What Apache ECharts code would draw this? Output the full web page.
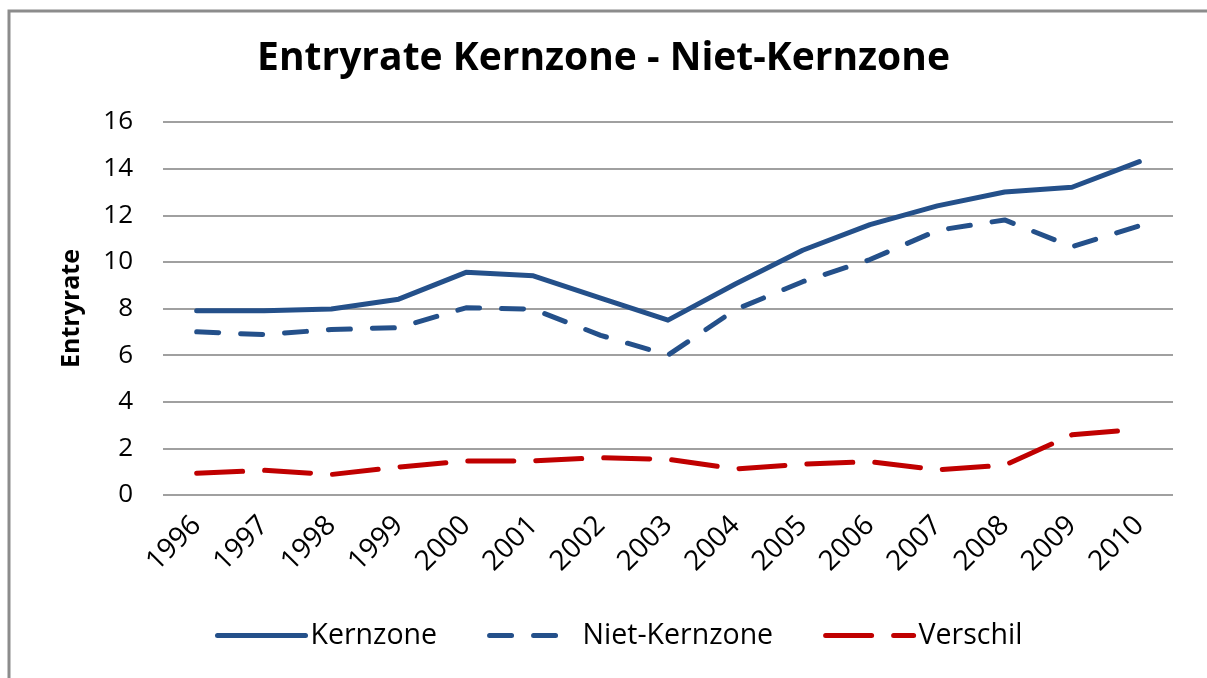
<!DOCTYPE html>
<html>
<head>
<meta charset="utf-8">
<script src="https://cdn.jsdelivr.net/npm/echarts@6/dist/echarts.min.js"></script>
<style>
  html, body { margin: 0; padding: 0; background: #fff; }
  #chart { width: 1207px; height: 678px; }
</style>
</head>
<body>
<div id="chart"></div>
<script>
var years = ['1996', '1997', '1998', '1999', '2000', '2001', '2002', '2003',
  '2004', '2005', '2006', '2007', '2008', '2009', '2010']
var kernzone = [7.9, 7.9, 7.98, 8.4, 9.55, 9.4, 8.45, 7.5, 9.05, 10.5, 11.6, 12.4, 13.0, 13.2, 14.3]
var nietKernzone = [7.0, 6.88, 7.1, 7.18, 8.03, 7.97, 6.85, 6.0, 7.95, 9.15, 10.1, 11.35, 11.8, 10.65, 11.55]
var verschil = [0.93, 1.06, 0.88, 1.2, 1.46, 1.46, 1.6, 1.53, 1.12, 1.32, 1.43, 1.08, 1.28, 2.58, 2.82]

var font = '"Open Sans", Lato, sans-serif'
var blue = '#24508a'
var red = '#c00000'

var chart = echarts.init(document.getElementById('chart'))

function lineSeries(name, data, color, dash) {
  return {
    name: name,
    type: 'line',
    data: data,
    symbol: 'none',
    smooth: false,
    lineStyle: {
      color: color,
      width: 5,
      type: dash,
      cap: 'round',
      join: 'round'
    },
    itemStyle: { color: color }
  }
}

var option = {
  animation: false,
  backgroundColor: '#fff',
  title: {
    text: 'Entryrate Kernzone - Niet-Kernzone',
    left: 'center',
    top: 34,
    textStyle: { fontFamily: font, fontSize: 39, fontWeight: 'bold', color: '#000' }
  },
  graphic: [{
    type: 'polyline',
    shape: { points: [[9, 690], [9, 11], [1220, 11]] },
    style: { stroke: '#8c8c8c', lineWidth: 3, fill: null }
  }],
  legend: {
    left: 210,
    top: 616,
    itemWidth: 88,
    itemHeight: 14,
    itemGap: 50,
    textStyle: { fontFamily: font, fontSize: 28.5, color: '#000' },
    itemStyle: { opacity: 0 },
    lineStyle: { width: 5, cap: 'round' },
    data: ['Kernzone', 'Niet-Kernzone', 'Verschil']
  },
  grid: { left: 163, right: 34, top: 122, bottom: 183, containLabel: false },
  xAxis: {
    type: 'category',
    data: years,
    boundaryGap: true,
    axisLine: { show: false },
    axisTick: { show: false },
    axisLabel: {
      rotate: 45,
      margin: 26,
      fontFamily: font,
      fontSize: 28,
      color: '#000'
    }
  },
  yAxis: {
    type: 'value',
    min: 0,
    max: 16,
    interval: 2,
    name: 'Entryrate',
    nameLocation: 'middle',
    nameGap: 79,
    nameRotate: 90,
    nameTextStyle: { fontFamily: font, fontSize: 25, fontWeight: 'bold', color: '#000' },
    axisLine: { show: false },
    axisTick: { show: false },
    axisLabel: { margin: 30, fontFamily: font, fontSize: 26, color: '#000' },
    splitLine: { lineStyle: { color: '#a0a0a0', width: 2 } }
  },
  series: [
    lineSeries('Kernzone', kernzone, blue, 'solid'),
    lineSeries('Niet-Kernzone', nietKernzone, blue, [22, 22]),
    lineSeries('Verschil', verschil, red, [46, 22])
  ]
}
chart.setOption(option)
</script>
</body>
</html>
